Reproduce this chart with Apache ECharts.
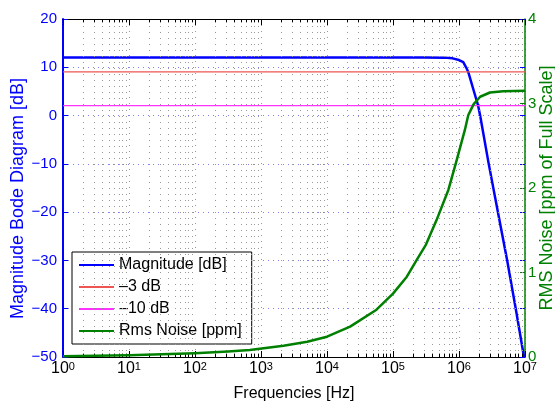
<!DOCTYPE html>
<html>
<head>
<meta charset="utf-8">
<script src="https://cdn.jsdelivr.net/npm/echarts@6/dist/echarts.min.js"></script>
<style>
  html, body { margin: 0; padding: 0; background: #fff; }
  #main { width: 555px; height: 404px; }
</style>
</head>
<body>
<div id="main"></div>
<script>
// magnitude curve (Hz, dB)
const magFreq = [1, 3e5, 6e5, 8e5, 1e6, 1.16e6, 1.28e6, 1.38e6, 1.66e6, 1.95e6, 2.09e6, 2.82e6, 3.89e6, 5.37e6, 7.24e6, 9.66e6];
const magDb   = [12.04, 12.04, 12.0, 11.85, 11.5, 11.05, 10.0, 9.04, 5.3, 2.04, 0, -10, -20, -30, -40, -50];

// rms noise curve (Hz, ppm of full scale)
const noiseFreq = [1, 10, 100, 316, 676, 2190, 5010, 1e4, 2.24e4, 5.62e4, 1e5, 1.62e5, 2.29e5, 3.16e5, 4.57e5, 6.92e5, 9.23e5, 1.23e6, 1.38e6, 1.66e6, 2.09e6, 2.95e6, 4.68e6, 1e7];
const noisePpm  = [0.01, 0.02, 0.045, 0.065, 0.083, 0.134, 0.18, 0.24, 0.36, 0.56, 0.75, 0.95, 1.15, 1.33, 1.62, 1.98, 2.33, 2.69, 2.86, 2.99, 3.08, 3.13, 3.145, 3.15];

// reference levels
const minus3Db = 9.04;
const minus10Db = 2.04;

const xMin = 1, xMax = 1e7;
const decades = [0, 1, 2, 3, 4, 5, 6];

const font = 'Liberation Sans, Arial, Helvetica, sans-serif';
const blue = '#0000ff';
const green = '#008000';

const pair = (xs, ys) => xs.map((x, i) => [x, ys[i]]);

// minor log grid positions 2..9 per decade
const minorPos = [];
decades.forEach(d => {
  for (let k = 2; k <= 9; k++) minorPos.push(k * Math.pow(10, d));
});

const chart = echarts.init(document.getElementById('main'));

const xBase = {
  type: 'log',
  logBase: 10,
  min: xMin,
  max: xMax,
  splitNumber: 7
};

const option = {
  animation: false,
  backgroundColor: '#fff',
  textStyle: { fontFamily: font },
  grid: { left: 63, right: 30, top: 19, bottom: 47, outerBoundsMode: 'none', containLabel: false },
  legend: {
    orient: 'vertical',
    left: 72,
    top: 252,
    data: ['Magnitude [dB]', '\u20133 dB', '\u201310 dB', 'Rms Noise [ppm]'],
    itemWidth: 35,
    itemHeight: 10,
    itemGap: 6,
    selectedMode: false,
    itemStyle: { opacity: 0 },
    backgroundColor: '#fff',
    borderColor: '#000',
    borderWidth: 1,
    borderRadius: 0,
    padding: [5, 10, 5, 6],
    textStyle: { fontSize: 16, lineHeight: 16, color: '#000', fontFamily: font }
  },
  xAxis: [
    Object.assign({}, xBase, {
      position: 'bottom',
      name: 'Frequencies [Hz]',
      nameLocation: 'middle',
      nameGap: 29,
      nameMoveOverlap: false,
      nameTextStyle: { fontSize: 16, color: '#000', fontFamily: font },
      axisLine: { show: true, onZero: false, lineStyle: { color: '#000', width: 1 } },
      axisTick: { show: true, inside: true, length: 6, lineStyle: { color: '#000' } },
      axisLabel: {
        margin: 4,
        formatter: v => '{b|10}{s|' + Math.round(Math.log10(v)) + '}',
        rich: {
          b: { fontSize: 16, color: '#000', fontFamily: font, verticalAlign: 'bottom', lineHeight: 16, padding: [5, 0, 0, 0] },
          s: { fontSize: 11, color: '#000', fontFamily: font, verticalAlign: 'top', lineHeight: 11 }
        }
      },
      splitLine: { show: true, lineStyle: { color: '#999', width: 1, type: [1, 5] } }
    }),
    Object.assign({}, xBase, {
      position: 'top',
      axisLine: { show: true, onZero: false, lineStyle: { color: '#000', width: 1 } },
      axisTick: { show: true, inside: true, length: 6, lineStyle: { color: '#000' } },
      axisLabel: { show: false },
      splitLine: { show: false }
    })
  ],
  yAxis: [
    {
      type: 'value',
      position: 'left',
      min: -50,
      max: 20,
      interval: 10,
      name: 'Magnitude Bode Diagram [dB]',
      nameLocation: 'middle',
      nameGap: 36,
      nameMoveOverlap: false,
      nameTextStyle: { fontSize: 18, color: blue, fontFamily: font, padding: [0, 21, 0, 0] },
      axisLine: { show: true, onZero: false, lineStyle: { color: blue, width: 2 } },
      axisTick: { show: true, inside: true, length: 5, lineStyle: { color: blue } },
      axisLabel: {
        color: blue, fontSize: 15, margin: 6, fontFamily: font,
        formatter: v => String(v).replace('-', '\u2212')
      },
      splitLine: { show: true, lineStyle: { color: '#8080ff', width: 1, type: [1, 4] } }
    },
    {
      type: 'value',
      position: 'right',
      offset: 0,
      min: 0,
      max: 4,
      interval: 1,
      name: 'RMS Noise [ppm of Full Scale]',
      nameLocation: 'middle',
      nameGap: 13,
      nameMoveOverlap: false,
      nameTextStyle: { fontSize: 18, color: green, fontFamily: font },
      axisLine: { show: true, onZero: false, lineStyle: { color: green, width: 1.5 } },
      axisTick: { show: true, inside: true, length: 5, lineStyle: { color: green } },
      axisLabel: { color: green, fontSize: 15, margin: 3, fontFamily: font },
      splitLine: { show: false }
    },
    {
      // mirrored blue ticks on the right edge
      type: 'value',
      position: 'right',
      offset: 0,
      min: -50,
      max: 20,
      interval: 10,
      axisLine: { show: false },
      axisTick: { show: true, inside: true, length: 5, lineStyle: { color: blue } },
      axisLabel: { show: false },
      splitLine: { show: false }
    }
  ],
  series: [
    {
      // minor grid
      type: 'line',
      name: 'grid',
      data: [],
      silent: true,
      markLine: {
        silent: true,
        symbol: 'none',
        animation: false,
        label: { show: false },
        lineStyle: { color: '#999', width: 1, type: [1, 5] },
        data: minorPos.map(f => ({ xAxis: f }))
      }
    },
    {
      // minor ticks top and bottom
      type: 'line',
      name: 'ticks',
      data: [],
      silent: true,
      markLine: {
        silent: true,
        symbol: 'none',
        animation: false,
        label: { show: false },
        lineStyle: { color: '#000', width: 1, type: 'solid' },
        data: minorPos.map(f => [{ coord: [f, -50] }, { coord: [f, -49.3] }])
          .concat(minorPos.map(f => [{ coord: [f, 20] }, { coord: [f, 19.3] }]))
      }
    },
    {
      type: 'line',
      name: 'Magnitude [dB]',
      yAxisIndex: 0,
      data: pair(magFreq, magDb),
      symbol: 'none',
      color: blue,
      lineStyle: { color: blue, width: 2.5, join: 'round' },
      z: 3
    },
    {
      type: 'line',
      name: '\u20133 dB',
      yAxisIndex: 0,
      data: [[xMin, minus3Db], [xMax, minus3Db]],
      symbol: 'none',
      color: '#ee5555',
      lineStyle: { color: '#ee5555', width: 1.2 },
      z: 4
    },
    {
      type: 'line',
      name: '\u201310 dB',
      yAxisIndex: 0,
      data: [[xMin, minus10Db], [xMax, minus10Db]],
      symbol: 'none',
      color: '#ff33ff',
      lineStyle: { color: '#ff33ff', width: 1.2 },
      z: 4
    },
    {
      type: 'line',
      name: 'Rms Noise [ppm]',
      yAxisIndex: 1,
      data: pair(noiseFreq, noisePpm),
      symbol: 'none',
      color: green,
      lineStyle: { color: green, width: 2.5, join: 'round' },
      z: 5
    }
  ]
};

chart.setOption(option);
</script>
</body>
</html>
